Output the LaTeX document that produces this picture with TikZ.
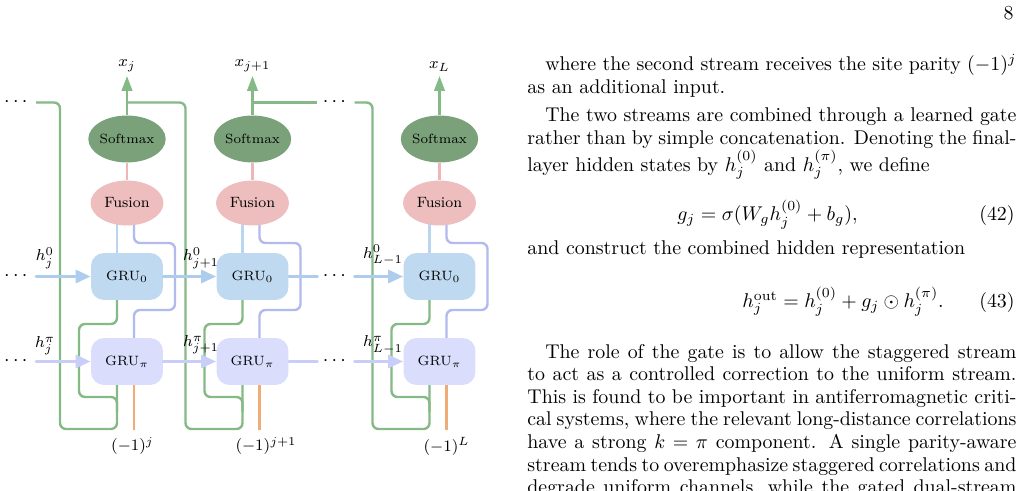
\documentclass[tikz,border=0pt]{standalone}
\usepackage{amsmath}
\usepackage{amssymb}
\usetikzlibrary{arrows.meta, positioning, calc, shapes.geometric, backgrounds}

\definecolor{feedgreen}{RGB}{133,185,133}
\definecolor{softgreen}{RGB}{122,161,122}
\definecolor{fusepink}{RGB}{238,190,190}
\definecolor{fuseline}{RGB}{240,182,182}
\definecolor{zerofill}{RGB}{191,218,240}
\definecolor{zeroline}{RGB}{174,204,236}
\definecolor{zerolinkc}{RGB}{186,213,240}
\definecolor{pifill}{RGB}{218,222,252}
\definecolor{piarrow}{RGB}{200,206,248}
\definecolor{piline}{RGB}{178,186,238}
\definecolor{parityline}{RGB}{240,172,118}

\newcommand{\fullline}[1]{\hbox to 246pt{#1}}
\newcommand{\lastline}[1]{\hbox to 246pt{#1\hfil}}

\begin{document}
\begin{tikzpicture}[x=0.503pt, y=-0.503pt, line cap=round, line join=round]
    % Styles
    \tikzset{
        softbox/.style={ellipse, fill=softgreen, minimum width=36.7pt, minimum height=23.6pt, inner sep=0pt, font=\fontsize{6.7}{8}\selectfont},
        fusebox/.style={ellipse, fill=fusepink, minimum width=36.7pt, minimum height=22.6pt, inner sep=0pt, font=\fontsize{7.5}{9}\selectfont},
        gruzero/.style={rectangle, rounded corners=6.5pt, fill=zerofill, minimum width=36.2pt, minimum height=23.6pt, inner sep=0pt, font=\fontsize{6.8}{8}\selectfont},
        grupi/.style={gruzero, fill=pifill},
        mathlabel/.style={inner sep=1pt, font=\fontsize{8.5}{10}\selectfont},
        dotsnode/.style={inner sep=2.5pt},
        feed/.style={line width=1.2pt, feedgreen, rounded corners=3pt},
        outarrow/.style={line width=1.2pt, feedgreen, -{Triangle[length=7.5pt, width=5.3pt]}},
        zeroarrow/.style={line width=1.6pt, zeroline, -{Triangle[length=7.5pt, width=6.5pt]}},
        piarrowst/.style={line width=1.6pt, piarrow, -{Triangle[length=7.5pt, width=6.5pt]}},
        zerolink/.style={line width=1.2pt, zerolinkc},
        pilink/.style={line width=1.2pt, piline, rounded corners=3pt},
        fuselink/.style={line width=1.2pt, fuseline},
        paritylink/.style={line width=1.2pt, parityline},
        bodytext/.style={inner sep=0pt, font=\fontsize{10}{11.37}\selectfont}
    }

    \useasboundingbox (0,0) rectangle (1022,491);

    % --- Site j ---
    \node[softbox] (sm1) at (127, 139) {Softmax};
    \node[fusebox] (fu1) at (127, 203) {Fusion};
    \node[gruzero] (gz1) at (127, 276.5) {GRU$_0$};
    \node[grupi] (gp1) at (127, 361.5) {GRU$_\pi$};
    \node[mathlabel, anchor=south, inner sep=2pt] (x1) at (127, 76) {$x_j$};
    \node[mathlabel, anchor=north, inner sep=3.5pt] (p1) at (132.5, 430) {$(-1)^j$};
    \coordinate (br1) at (127, 102.5);

    % --- Site j+1 ---
    \node[softbox] (sm2) at (252.5, 139) {Softmax};
    \node[fusebox] (fu2) at (252.5, 203) {Fusion};
    \node[gruzero] (gz2) at (252.5, 276.5) {GRU$_0$};
    \node[grupi] (gp2) at (252.5, 361.5) {GRU$_\pi$};
    \node[mathlabel, anchor=south, inner sep=2pt] (x2) at (252.5, 76) {$x_{j+1}$};
    \node[mathlabel, anchor=north, inner sep=3.5pt] (p2) at (266, 430) {$(-1)^{j+1}$};
    \coordinate (br2) at (252.5, 102.5);

    % --- Site L ---
    \node[softbox] (sm3) at (439.5, 139) {Softmax};
    \node[fusebox] (fu3) at (439.5, 203) {Fusion};
    \node[gruzero] (gz3) at (439.5, 276.5) {GRU$_0$};
    \node[grupi] (gp3) at (439.5, 361.5) {GRU$_\pi$};
    \node[mathlabel, anchor=south, inner sep=2pt] (x3) at (439.5, 76) {$x_L$};
    \node[mathlabel, anchor=north, inner sep=3.5pt] (p3) at (446.5, 430) {$(-1)^L$};

    % --- Ellipsis ---
    \node[dotsnode] (dtop) at (17.5, 102.5) {$\cdots$};
    \node[dotsnode] (dzero) at (17.5, 276.5) {$\cdots$};
    \node[dotsnode] (dpi) at (17.5, 361.5) {$\cdots$};
    \node[dotsnode] (mtop) at (336, 102.5) {$\cdots$};
    \node[dotsnode] (mzero) at (336, 276.5) {$\cdots$};
    \node[dotsnode] (mpi) at (336, 361.5) {$\cdots$};

    % --- Hidden state labels ---
    \node[mathlabel] (hz1) at (45, 258) {$h_j^0$};
    \node[mathlabel] (hz2) at (201, 258) {$h_{j+1}^0$};
    \node[mathlabel] (hz3) at (383, 255) {$h_{L-1}^0$};
    \node[mathlabel] (hp1) at (45, 346) {$h_j^\pi$};
    \node[mathlabel] (hp2) at (201, 345) {$h_{j+1}^\pi$};
    \node[mathlabel] (hp3) at (383, 345) {$h_{L-1}^\pi$};

    \begin{scope}[on background layer]
        % Inside each site
        \draw[fuselink] (sm1) -- (fu1);
        \draw[fuselink] (sm2) -- (fu2);
        \draw[fuselink] (sm3) -- (fu3);
        \draw[zerolink] ($(gz1.center)+(-10,0)$) -- ($(fu1.center)+(-10,0)$);
        \draw[zerolink] ($(gz2.center)+(-10,0)$) -- ($(fu2.center)+(-10,0)$);
        \draw[zerolink] ($(gz3.center)+(-10,0)$) -- ($(fu3.center)+(-10,0)$);
        \draw[pilink] ($(gp1.center)+(7,0)$) |- ($(gp1.center)+(48,-51.5)$) |- ($(fu1.center)+(7,40)$) -- ($(fu1.center)+(7,0)$);
        \draw[pilink] ($(gp2.center)+(7,0)$) |- ($(gp2.center)+(48,-51.5)$) |- ($(fu2.center)+(7,40)$) -- ($(fu2.center)+(7,0)$);
        \draw[pilink] ($(gp3.center)+(7,0)$) |- ($(gp3.center)+(48,-51.5)$) |- ($(fu3.center)+(7,40)$) -- ($(fu3.center)+(7,0)$);

        % Parity inputs
        \draw[paritylink] ($(gp1.center)+(7,0)$) coordinate (o1) -- (o1 |- p1.north);
        \draw[paritylink] ($(gp2.center)+(7,0)$) coordinate (o2) -- (o2 |- p2.north);
        \draw[paritylink] ($(gp3.center)+(7,0)$) coordinate (o3) -- (o3 |- p3.north);

        % Outputs
        \draw[outarrow] (sm1) -- (x1);
        \draw[outarrow] (sm2) -- (x2);
        \draw[outarrow] (sm3) -- (x3);

        % Previous output fed back
        \draw[feed] (dtop.east) -| ($(gp1.center)+(-67,67.5)$) -| ($(gp1.center)+(-10,0)$);
        \draw[feed] ($(gp1.center)+(-10,50)$) |- ($(gp1.center)+(-48,35.5)$) |- ($(gz1.center)+(-10,47.5)$) -- ($(gz1.center)+(-10,0)$);
        \draw[feed] (br1) -| ($(gp2.center)+(-67,67.5)$) -| ($(gp2.center)+(-10,0)$);
        \draw[feed] ($(gp2.center)+(-10,50)$) |- ($(gp2.center)+(-48,35.5)$) |- ($(gz2.center)+(-10,47.5)$) -- ($(gz2.center)+(-10,0)$);
        \draw[feed] (br2) -- (mtop.west);
        \draw[feed] (mtop.east) -| ($(gp3.center)+(-67,67.5)$) -| ($(gp3.center)+(-10,0)$);
        \draw[feed] ($(gp3.center)+(-10,50)$) |- ($(gp3.center)+(-48,35.5)$) |- ($(gz3.center)+(-10,47.5)$) -- ($(gz3.center)+(-10,0)$);
    \end{scope}

    % --- Recurrent hidden states ---
    \draw[zeroarrow] (dzero.east) -- (gz1.west);
    \draw[zeroarrow] (gz1.east) -- (gz2.west);
    \draw[zeroarrow, -] (gz2.east) -- (mzero.west);
    \draw[zeroarrow] (mzero.east) -- (gz3.west);
    \draw[piarrowst] (dpi.east) -- (gp1.west);
    \draw[piarrowst] (gp1.east) -- (gp2.west);
    \draw[piarrowst, -] (gp2.east) -- (mpi.west);
    \draw[piarrowst] (mpi.east) -- (gp3.west);

    % --- Page text ---
    \node[bodytext, anchor=base east] (page) at (1014, 20) {8};
    \node[bodytext, anchor=base west] (para1) at (527, 70.7) {\parbox[t]{246pt}{%
        \fullline{\hskip 9pt where the second stream receives the site parity $(-1)^j$}
        \lastline{as an additional input.}}};
    \node[bodytext, anchor=base west] (para2) at (527, 121.7) {\parbox[t]{246pt}{%
        \fullline{\hskip 9pt The two streams are combined through a learned gate}
        \fullline{rather than by simple concatenation. Denoting the final-}
        \lastline{layer hidden states by $h_j^{(0)}$ and $h_j^{(\pi)}$, we define}}};
    \node[bodytext, anchor=base west] (eqa) at (677, 221) {$g_j = \sigma(W_g h_j^{(0)} + b_g),$};
    \node[bodytext, anchor=base east] (eqanum) at (1015, 221) {(42)};
    \node[bodytext, anchor=base west] (para3) at (527, 255) {\parbox[t]{246pt}{%
        \lastline{and construct the combined hidden representation}}};
    \node[bodytext, anchor=base west] (eqb) at (742, 307.7) {$h_j^{\mathrm{out}} = h_j^{(0)} + g_j \odot h_j^{(\pi)}.$};
    \node[bodytext, anchor=base east] (eqbnum) at (1015, 307.7) {(43)};
    \node[bodytext, anchor=base west] (para4) at (527, 358) {\parbox[t]{246pt}{%
        \fullline{\hskip 9pt The role of the gate is to allow the staggered stream}
        \fullline{to act as a controlled correction to the uniform stream.}
        \fullline{This is found to be important in antiferromagnetic criti-}
        \fullline{cal systems, where the relevant long-distance correlations}
        \fullline{have a strong $k = \pi$ component.  A single parity-aware}
        \fullline{stream tends to overemphasize staggered correlations and}
        \fullline{degrade uniform channels, while the gated dual-stream}}};

\end{tikzpicture}
\end{document}
